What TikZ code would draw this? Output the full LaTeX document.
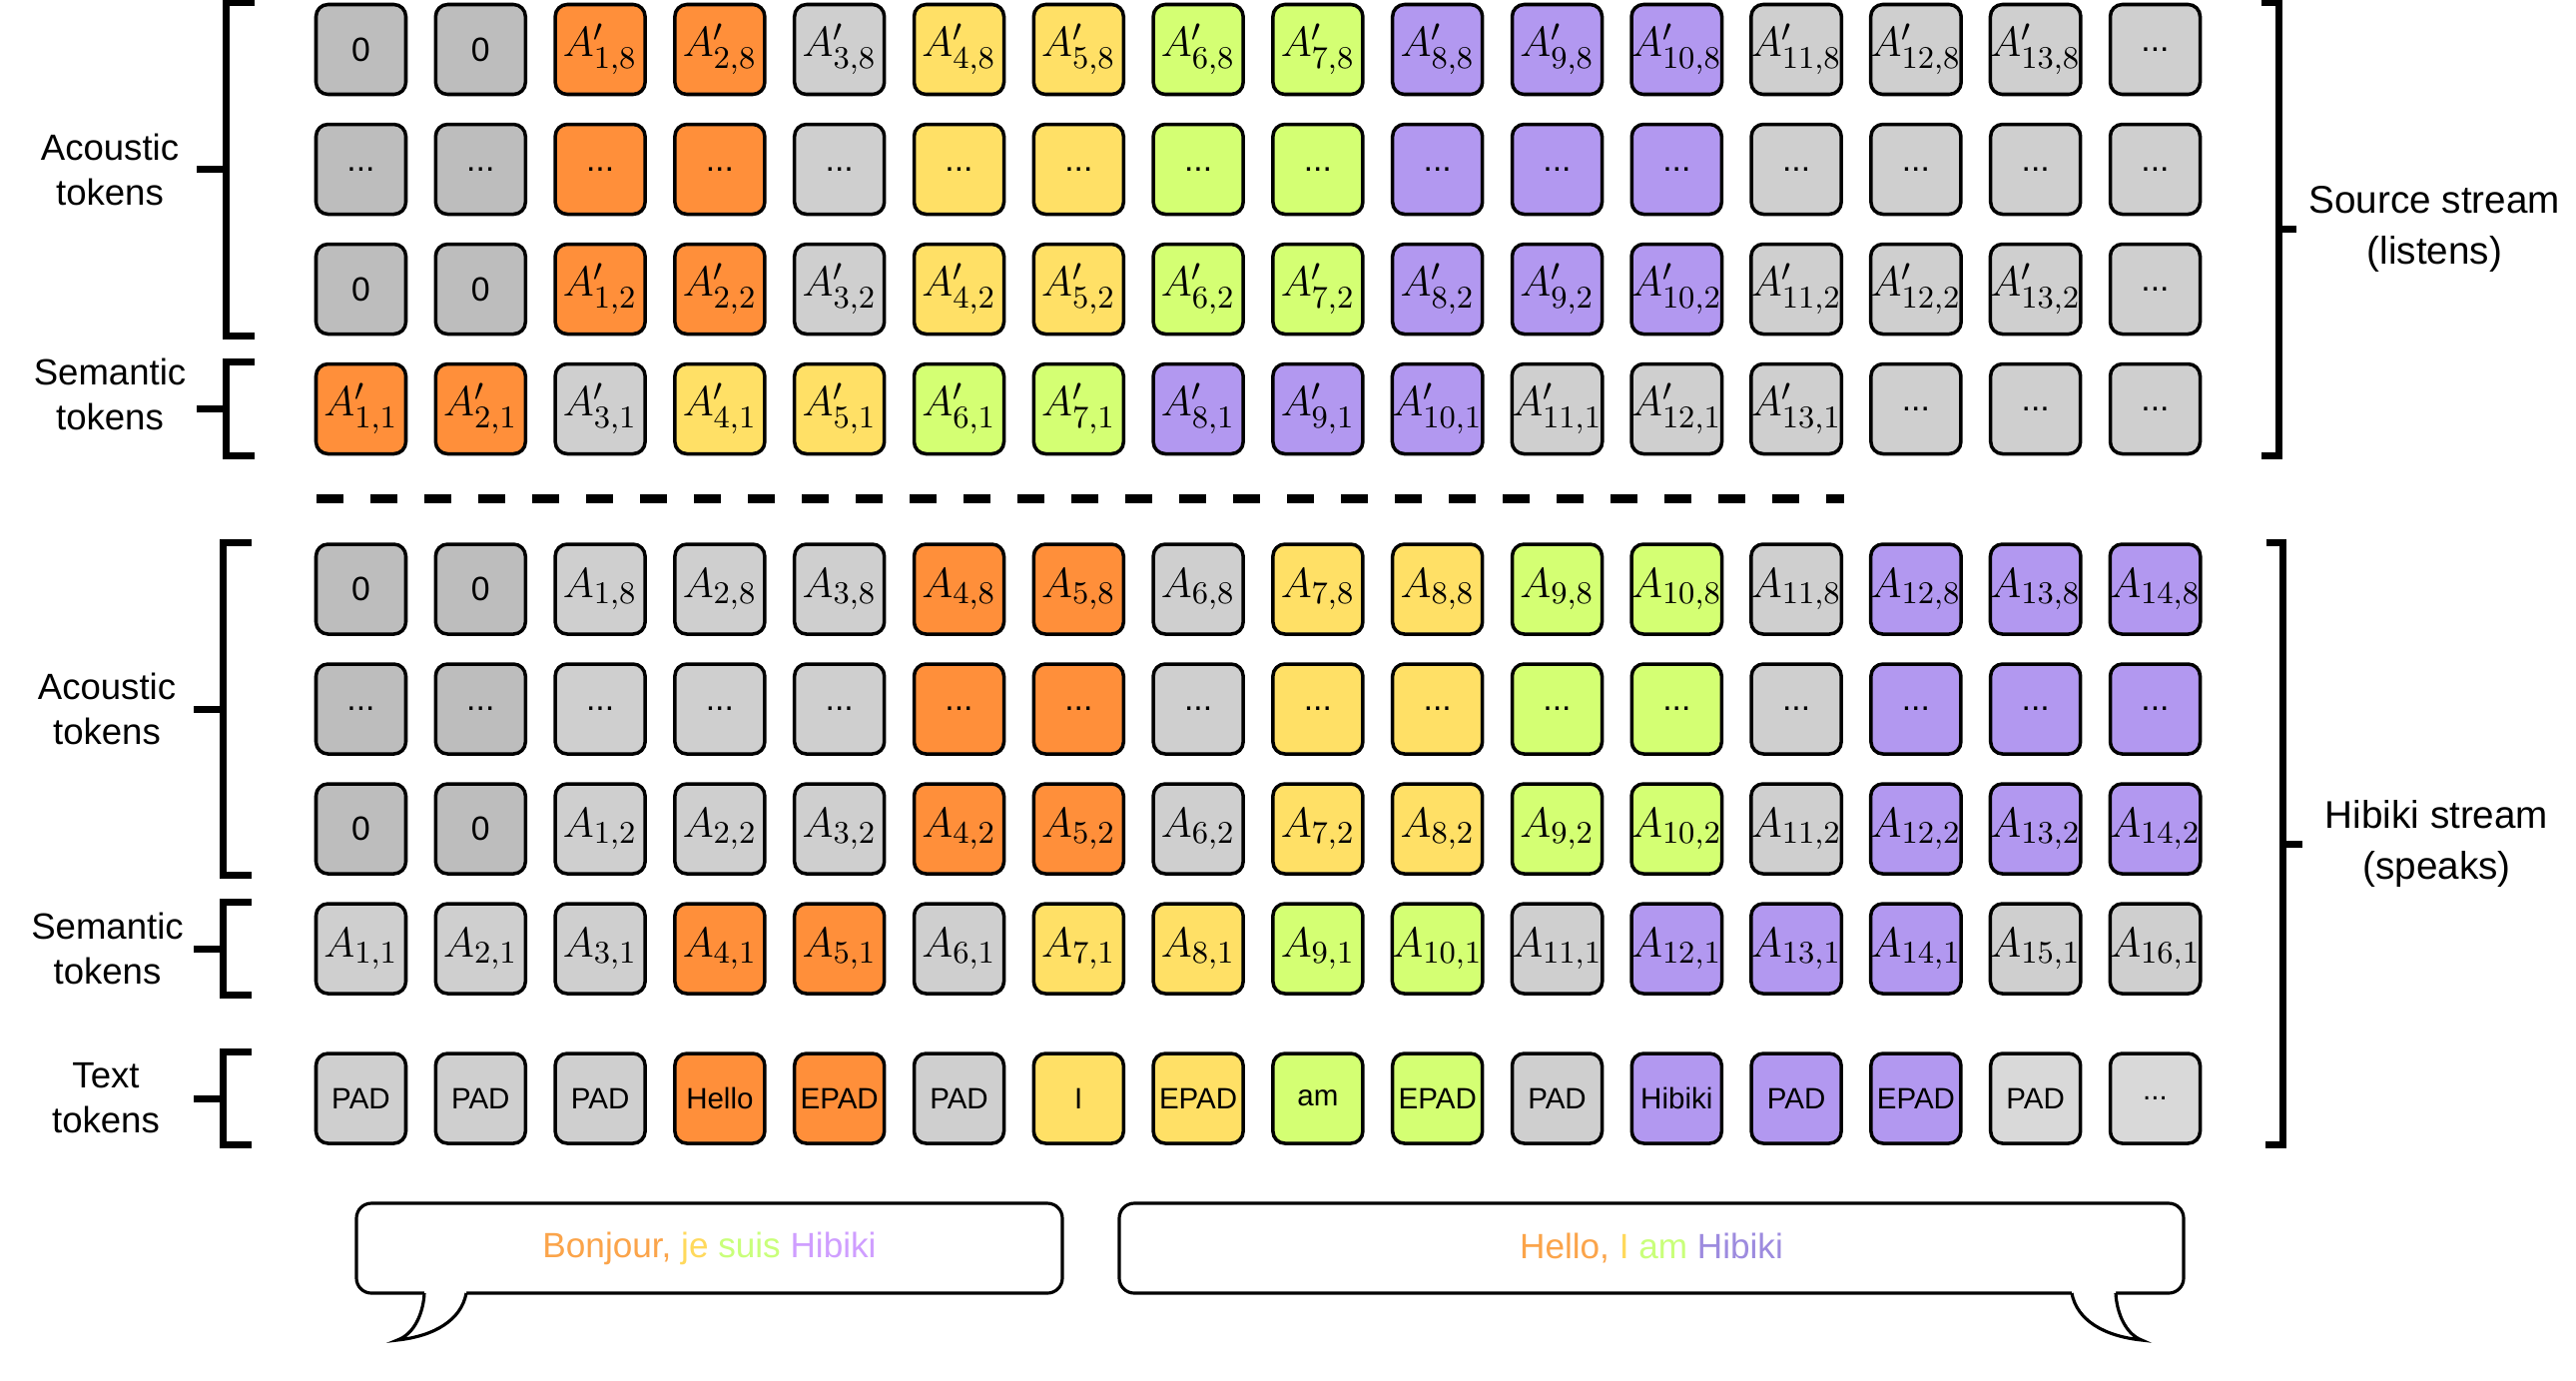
\documentclass[tikz,border=0pt]{standalone}
\usepackage[no-math]{fontspec}
\usepackage{amsmath}
\usepackage{tikz}
\usetikzlibrary{positioning,calc}

\newfontfamily\arialfont{Liberation Sans}

\definecolor{tokDark}{HTML}{BDBDBD}
\definecolor{tokGray}{HTML}{CFCFCF}
\definecolor{tokLight}{HTML}{D9D9D9}
\definecolor{tokOrange}{HTML}{FF8F3A}
\definecolor{tokYellow}{HTML}{FFE066}
\definecolor{tokGreen}{HTML}{D4FF73}
\definecolor{tokPurple}{HTML}{B298F0}
\definecolor{txtOrange}{HTML}{FBA44A}
\definecolor{txtYellow}{HTML}{FFD95C}
\definecolor{txtGreen}{HTML}{C9FF7A}
\definecolor{txtLilac}{HTML}{CF9EFF}
\definecolor{txtPurple}{HTML}{9D8BDF}

\newcommand{\lblfont}{\arialfont\fontsize{10.4}{12.8}\selectfont}
\newcommand{\strmfont}{\arialfont\fontsize{11}{14.5}\selectfont}
\newcommand{\tokfont}{\arialfont\fontsize{9.6}{11}\selectfont}
\newcommand{\txtfont}{\arialfont\fontsize{8.4}{10}\selectfont}
\newcommand{\mtokfont}{\fontsize{13.2}{15}\selectfont}
\newcommand{\bubfont}{\arialfont\fontsize{10}{12}\selectfont}
\newcommand{\tdots}{...}

\begin{document}
\begin{tikzpicture}[x=1cm,y=1cm]
  \tikzstyle{tok}=[rectangle,draw=black,line width=1pt,rounded corners=0.12cm,minimum width=0.9cm,minimum height=0.9cm,inner sep=0pt,font=\tokfont]
  \tikzstyle{mtok}=[tok,font=\mtokfont]
  \tikzstyle{ttok}=[tok,font=\txtfont]
  \tikzstyle{lbl}=[align=center,font=\lblfont]
  \tikzstyle{strm}=[align=center,font=\strmfont]
  \tikzstyle{brk}=[line width=2pt]
  \tikzstyle{sep}=[line width=0.09cm,dash pattern=on 0.27cm off 0.27cm]
  \tikzstyle{bubble}=[rectangle,draw=black,line width=0.9pt,rounded corners=0.15cm,minimum height=0.9cm,fill=white,font=\bubfont]
  \tikzstyle{tail}=[line width=0.9pt]

  \useasboundingbox (0,0) rectangle (25.80,-13.82);

  \begin{scope}
    % Source stream (listens)
    \foreach \k in {1,2} {
      \node [tok,fill=tokDark] (s8-z\k) at ({3.615+1.198*(\k-1)},-0.495) {0};
      \node [tok,fill=tokDark] (sd-z\k) at ({3.615+1.198*(\k-1)},-1.695) {...};
      \node [tok,fill=tokDark] (s2-z\k) at ({3.615+1.198*(\k-1)},-2.895) {0};
    }
    \foreach \n/\c in {1/tokOrange,2/tokOrange,3/tokGray,4/tokYellow,5/tokYellow,6/tokGreen,7/tokGreen,8/tokPurple,9/tokPurple,10/tokPurple,11/tokGray,12/tokGray,13/tokGray} {
      \node [mtok,fill=\c] (s8-\n) at ({3.615+1.198*(\n+1)},-0.495) {$A'_{\n,8}$};
      \node [tok,fill=\c]  (sd-\n) at ({3.615+1.198*(\n+1)},-1.695) {...};
      \node [mtok,fill=\c] (s2-\n) at ({3.615+1.198*(\n+1)},-2.895) {$A'_{\n,2}$};
      \node [mtok,fill=\c] (s1-\n) at ({3.615+1.198*(\n-1)},-4.095) {$A'_{\n,1}$};
    }
    \node [tok,fill=tokGray] (s8-x) at (21.585,-0.495) {...};
    \node [tok,fill=tokGray] (sd-x) at (21.585,-1.695) {...};
    \node [tok,fill=tokGray] (s2-x) at (21.585,-2.895) {...};
    \foreach \k in {14,15,16}
      \node [tok,fill=tokGray] (s1-\k) at ({3.615+1.198*(\k-1)},-4.095) {...};
  \end{scope}

  \begin{scope}
    % Hibiki stream (speaks)
    \foreach \k in {1,2} {
      \node [tok,fill=tokDark] (h8-z\k) at ({3.615+1.198*(\k-1)},-5.90) {0};
      \node [tok,fill=tokDark] (hd-z\k) at ({3.615+1.198*(\k-1)},-7.10) {...};
      \node [tok,fill=tokDark] (h2-z\k) at ({3.615+1.198*(\k-1)},-8.30) {0};
    }
    \foreach \n/\c in {1/tokGray,2/tokGray,3/tokGray,4/tokOrange,5/tokOrange,6/tokGray,7/tokYellow,8/tokYellow,9/tokGreen,10/tokGreen,11/tokGray,12/tokPurple,13/tokPurple,14/tokPurple} {
      \node [mtok,fill=\c] (h8-\n) at ({3.615+1.198*(\n+1)},-5.90) {$A_{\n,8}$};
      \node [tok,fill=\c]  (hd-\n) at ({3.615+1.198*(\n+1)},-7.10) {...};
      \node [mtok,fill=\c] (h2-\n) at ({3.615+1.198*(\n+1)},-8.30) {$A_{\n,2}$};
    }
    \foreach \n/\c in {1/tokGray,2/tokGray,3/tokGray,4/tokOrange,5/tokOrange,6/tokGray,7/tokYellow,8/tokYellow,9/tokGreen,10/tokGreen,11/tokGray,12/tokPurple,13/tokPurple,14/tokPurple,15/tokGray,16/tokGray}
      \node [mtok,fill=\c] (h1-\n) at ({3.615+1.198*(\n-1)},-9.50) {$A_{\n,1}$};
    \foreach \t/\c [count=\i] in {PAD/tokGray,PAD/tokGray,PAD/tokGray,Hello/tokOrange,EPAD/tokOrange,PAD/tokGray,I/tokYellow,EPAD/tokYellow,am/tokGreen,EPAD/tokGreen,PAD/tokGray,Hibiki/tokPurple,PAD/tokPurple,EPAD/tokPurple,PAD/tokLight,\tdots/tokLight}
      \node [ttok,fill=\c] (ht-\i) at ({3.615+1.198*(\i-1)},-11.00) {\t};
  \end{scope}

  % row labels
  \node [lbl] (acSrc)  at (1.10,-1.695) {Acoustic\\tokens};
  \node [lbl] (seSrc)  at (1.10,-3.95)  {Semantic\\tokens};
  \node [lbl] (acHib)  at (1.07,-7.10)  {Acoustic\\tokens};
  \node [lbl] (seHib)  at (1.075,-9.50) {Semantic\\tokens};
  \node [lbl] (txHib)  at (1.06,-11.00) {Text\\tokens};

  % left brackets
  \draw [brk] ([xshift=-0.6cm]s8-z1.north west) -- ++(-0.28,0) |- ([xshift=-0.6cm]s2-z1.south west);
  \draw [brk] ([xshift=-0.88cm]sd-z1.west) -- ++(-0.3,0);
  \draw [brk] ([xshift=-0.6cm]s1-1.north west) -- ++(-0.28,0) |- ([xshift=-0.6cm]s1-1.south west);
  \draw [brk] ([xshift=-0.88cm]s1-1.west) -- ++(-0.3,0);
  \draw [brk] ([xshift=-0.63cm]h8-z1.north west) -- ++(-0.28,0) |- ([xshift=-0.63cm]h2-z1.south west);
  \draw [brk] ([xshift=-0.91cm]hd-z1.west) -- ++(-0.3,0);
  \draw [brk] ([xshift=-0.63cm]h1-1.north west) -- ++(-0.28,0) |- ([xshift=-0.63cm]h1-1.south west);
  \draw [brk] ([xshift=-0.91cm]h1-1.west) -- ++(-0.3,0);
  \draw [brk] ([xshift=-0.63cm]ht-1.north west) -- ++(-0.28,0) |- ([xshift=-0.63cm]ht-1.south west);
  \draw [brk] ([xshift=-0.91cm]ht-1.west) -- ++(-0.3,0);

  % right brackets
  \draw [brk] ([xshift=0.6cm]s8-x.north east) -- ++(0.17,0) |- ([xshift=0.6cm]s1-16.south east);
  \coordinate (srcMid) at ($([xshift=0.77cm]s8-x.north east)!0.5!([xshift=0.77cm]s1-16.south east)$);
  \coordinate (srcTick) at ($(srcMid)+(0.18,0)$);
  \draw [brk] (srcMid) -- (srcTick);
  \node [strm,right=0cm of srcTick] (srcLbl) {Source stream\\(listens)};

  \draw [brk] ([xshift=0.64cm]h8-14.north east) -- ++(0.17,0) |- ([xshift=0.64cm]ht-16.south east);
  \coordinate (hibMid) at ($([xshift=0.81cm]h8-14.north east)!0.5!([xshift=0.81cm]ht-16.south east)$);
  \coordinate (hibTick) at ($(hibMid)+(0.2,0)$);
  \draw [brk] (hibMid) -- (hibTick);
  \node [strm,right=0.1cm of hibTick] (hibLbl) {Hibiki stream\\(speaks)};

  % separator between the two streams
  \coordinate (sepL) at (3.17,-4.99);
  \coordinate (sepR) at (18.47,-4.99);
  \draw [sep] (sepL) -- (sepR);

  % speech bubbles
  \node [bubble,minimum width=7.07cm] (bubFr) at (7.105,-12.50)
    {\textcolor{txtOrange}{Bonjour,} \textcolor{txtYellow}{je} \textcolor{txtGreen}{suis} \textcolor{txtLilac}{Hibiki}};
  \node [bubble,minimum width=10.66cm] (bubEn) at (16.54,-12.50)
    {\textcolor{txtOrange}{Hello,} \textcolor{txtYellow}{I} \textcolor{txtGreen}{am} \textcolor{txtPurple}{Hibiki}};

  \coordinate (tailFrA) at (4.25,-12.95);
  \coordinate (tailFrB) at (4.67,-12.95);
  \coordinate (tailFrTip) at (3.98,-13.42);
  \fill [white] (4.25,-12.92) -- (4.67,-12.92) -- (tailFrB) .. controls (4.62,-13.22) and (4.35,-13.38) .. (tailFrTip)
    .. controls (4.15,-13.36) and (4.24,-13.15) .. (tailFrA) -- cycle;
  \draw [tail] (tailFrA) .. controls (4.24,-13.15) and (4.15,-13.36) .. (tailFrTip)
    .. controls (4.35,-13.38) and (4.62,-13.22) .. (tailFrB);

  \coordinate (tailEnA) at (20.75,-12.95);
  \coordinate (tailEnB) at (21.19,-12.95);
  \coordinate (tailEnTip) at (21.45,-13.42);
  \fill [white] (20.75,-12.92) -- (21.19,-12.92) -- (tailEnB) .. controls (21.20,-13.15) and (21.29,-13.36) .. (tailEnTip)
    .. controls (21.07,-13.38) and (20.80,-13.22) .. (tailEnA) -- cycle;
  \draw [tail] (tailEnA) .. controls (20.80,-13.22) and (21.07,-13.38) .. (tailEnTip)
    .. controls (21.29,-13.36) and (21.20,-13.15) .. (tailEnB);
\end{tikzpicture}
\end{document}
